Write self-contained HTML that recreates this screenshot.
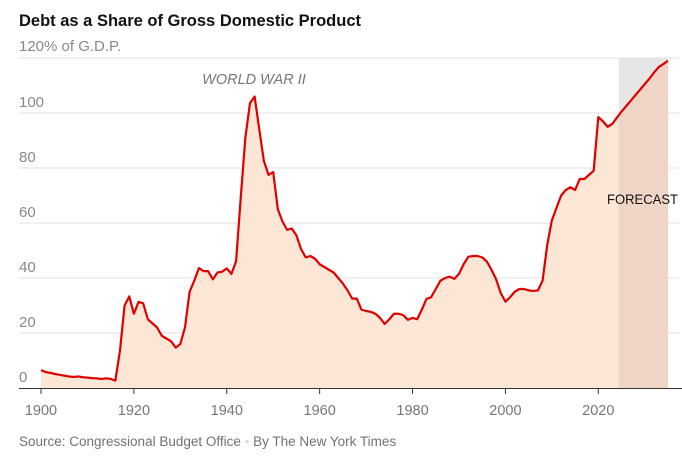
<!DOCTYPE html>
<html><head><meta charset="utf-8"><style>
body{margin:0;background:#fff;width:682px;height:468px;overflow:hidden;font-family:"Liberation Sans",sans-serif}
</style></head><body>
<svg id="chart" width="682" height="468" xmlns="http://www.w3.org/2000/svg">
<text x="19" y="26" font-size="16.5" font-weight="bold" fill="#121212">Debt as a Share of Gross Domestic Product</text>
<text x="19" y="446" font-size="13.5" fill="#727272">Source: Congressional Budget Office <tspan fill="#ddd">•</tspan> By The New York Times</text>
<g id="grid"></g>
<g id="marks"></g>
<g id="axes"></g>
</svg>
<script>
const years = [1900,1901,1902,1903,1904,1905,1906,1907,1908,1909,1910,1911,1912,1913,1914,1915,1916,1917,1918,1919,1920,1921,1922,1923,1924,1925,1926,1927,1928,1929,1930,1931,1932,1933,1934,1935,1936,1937,1938,1939,1940,1941,1942,1943,1944,1945,1946,1947,1948,1949,1950,1951,1952,1953,1954,1955,1956,1957,1958,1959,1960,1961,1962,1963,1964,1965,1966,1967,1968,1969,1970,1971,1972,1973,1974,1975,1976,1977,1978,1979,1980,1981,1982,1983,1984,1985,1986,1987,1988,1989,1990,1991,1992,1993,1994,1995,1996,1997,1998,1999,2000,2001,2002,2003,2004,2005,2006,2007,2008,2009,2010,2011,2012,2013,2014,2015,2016,2017,2018,2019,2020,2021,2022,2023,2024,2025,2026,2027,2028,2029,2030,2031,2032,2033,2034,2035];
const debt = [6.5,5.8,5.5,5.1,4.8,4.5,4.2,4,4.2,3.9,
3.8,3.6,3.5,3.3,3.5,3.3,2.7,13.5,30,33.3,
27,31.3,30.8,25,23.5,22,19,18,17,14.7,
16,22,35,39,43.6,42.5,42.5,39.5,42,42.3,
43.5,41.5,46,69,91,103.6,106,94,82.5,77.5,
78.5,65,60.5,57.5,58,55.5,50.5,47.5,48,47,
45,44,43,42,40,38,35.5,32.5,32.5,28.5,
28,27.7,27,25.5,23.3,25,27,27,26.5,24.8,
25.5,25,28.5,32.4,33,36,39,40,40.5,39.7,
41.5,45,47.7,48,48,47.5,46,43,39.5,34.5,
31.4,33,35,36,36,35.5,35.3,35.5,39,52,
61,65.5,70,72,73,72,76,76,77.5,79,
98.5,97,95,96,98.3,100.5,102.5,104.5,106.5,108.5,
110.5,112.5,114.7,116.7,117.8,119];
const yTicks = [0,20,40,60,80,100,120];
const yTickLabels = ["0","20","40","60","80","100","120% of G.D.P."];
const xTicks = [1900,1920,1940,1960,1980,2000,2020];
const forecastStart = 2024.4;
const forecastEnd = 2035;

const NS="http://www.w3.org/2000/svg";
const X = y => 41 + (y-1900)*(557.3/120);
const Y = v => 388 - v*2.75;
function mk(tag, attrs, parent){const e=document.createElementNS(NS,tag);for(const k in attrs)e.setAttribute(k,attrs[k]);parent.appendChild(e);return e;}
const grid=document.getElementById('grid'), marks=document.getElementById('marks'), axes=document.getElementById('axes');
const n=Math.min(years.length,debt.length);

yTicks.forEach((t,i)=>{
  if(t>0){const l=mk('line',{x1:19,x2:679,y1:Y(t),y2:Y(t),stroke:'#e2e2e2','stroke-width':1},grid);
  
  }
  const tx=mk('text',{x:19,y:Y(t)-(t===120?7:6),'font-size':15,fill:'#888'},grid);
  tx.textContent=yTickLabels[i];
  
  
});

let d='M'+X(years[0])+','+Y(0);
for(let i=0;i<n;i++){d+=' L'+X(years[i]).toFixed(2)+','+Y(debt[i]).toFixed(2);}
d+=' L'+X(years[n-1])+','+Y(0)+' Z';
const area=mk('path',{d:d,fill:'#fce7d6'},marks);



const fx1=X(forecastStart), fx2=X(forecastEnd);
const fg=mk('rect',{x:fx1,y:Y(120),width:fx2-fx1,height:Y(0)-Y(120),fill:'#e6e6e6'},marks);


const cp=mk('clipPath',{id:'fc'},marks);
mk('rect',{x:fx1,y:0,width:fx2-fx1,height:468},cp);
const fa=mk('path',{d:d,fill:'#efd5c5','clip-path':'url(#fc)'},marks);



let ld='';
for(let i=0;i<n;i++){ld+=(i?' L':'M')+X(years[i]).toFixed(2)+','+Y(debt[i]).toFixed(2);}
const line=mk('path',{d:ld,fill:'none',stroke:'#e00000','stroke-width':2.2,'stroke-linejoin':'round'},marks);



const ww=mk('text',{x:254,y:84,'font-size':14.5,'font-style':'italic',fill:'#777','text-anchor':'middle'},marks);
ww.textContent='WORLD WAR II';


const fc=mk('text',{x:607,y:204,'font-size':14,fill:'#121212',textLength:71,lengthAdjust:'spacingAndGlyphs'},marks);
fc.textContent='FORECAST';



const ax=mk('line',{x1:19,x2:682,y1:388.5,y2:388.5,stroke:'#333','stroke-width':1},axes);


xTicks.forEach(t=>{
  const tk=mk('line',{x1:X(t),x2:X(t),y1:388,y2:394,stroke:'#333','stroke-width':1},axes);
  
  
  const tl=mk('text',{x:X(t),y:415,'font-size':14.5,fill:'#777','text-anchor':'middle'},axes);
  tl.textContent=t;
  
  
});
</script>
</body></html>
